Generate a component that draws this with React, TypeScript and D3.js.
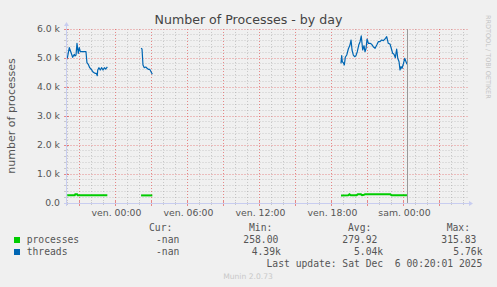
import React from "react";
import * as d3 from "d3";

// ---------- data (hours relative to ven. 00:00, values) ----------
const threadsSeg1: [number, number][] = [
  [-4.02, 4990], [-3.85, 5355], [-3.73, 5217], [-3.57, 5024], [-3.43, 5128], [-3.38, 5069],
  [-3.29, 5100], [-3.21, 5507], [-3.1, 5162], [-3.02, 5355], [-2.93, 5217], [-2.46, 5217],
  [-2.38, 4838], [-2.27, 4783], [-2.15, 4666], [-1.98, 4586], [-1.85, 4507], [-1.71, 4472],
  [-1.6, 4472], [-1.52, 4390], [-1.48, 4586], [-1.38, 4666], [-1.27, 4586], [-1.15, 4666],
  [-1.04, 4586], [-0.93, 4666], [-0.82, 4620], [-0.68, 4690],
];
const threadsSeg2: [number, number][] = [
  [2.13, 5334], [2.21, 5310], [2.29, 4759], [2.4, 4666], [2.52, 4690], [2.63, 4645],
  [2.73, 4610], [2.85, 4610], [2.96, 4528], [3.07, 4438],
];
const threadsSeg3: [number, number][] = [
  [18.79, 4816], [18.85, 5080], [18.9, 4872], [18.98, 4838], [19.07, 4759], [19.15, 5024],
  [19.27, 5103], [19.4, 5310], [19.54, 5448], [19.63, 5621], [19.71, 5276], [19.82, 5103],
  [19.93, 5045], [20.04, 5080], [20.15, 5217], [20.27, 5448], [20.38, 5562], [20.48, 5760],
  [20.6, 5276], [20.71, 5424], [20.79, 5217], [20.88, 5334], [20.96, 5655], [21.07, 5507],
  [21.21, 5507], [21.35, 5472], [21.48, 5390], [21.63, 5334], [21.77, 5448], [21.9, 5562],
  [22.04, 5562], [22.18, 5621], [22.32, 5600], [22.46, 5655], [22.6, 5735], [22.73, 5507],
  [22.88, 5480], [23.02, 5276], [23.1, 5162], [23.21, 5128], [23.32, 5011], [23.43, 5310],
  [23.52, 4990], [23.63, 4872], [23.71, 4586], [23.79, 4701], [23.88, 4645], [23.98, 4783],
  [24.1, 4990], [24.21, 4872], [24.29, 4783],
];
const processesSeg1: [number, number][] = [
  [-4.02, 265], [-3.4, 265], [-3.35, 300], [-3.2, 300], [-3.15, 268], [-0.68, 266],
];
const processesSeg2: [number, number][] = [
  [2.13, 262], [3.07, 262],
];
const processesSeg3: [number, number][] = [
  [18.79, 262], [19.4, 265], [19.5, 300], [19.6, 268], [20.1, 270], [20.2, 300], [20.45, 300],
  [20.55, 272], [20.7, 280], [20.8, 305], [22.9, 305], [23.0, 268], [24.29, 266],
];
const threadsSegments = [threadsSeg1, threadsSeg2, threadsSeg3];
const processesSegments = [processesSeg1, processesSeg2, processesSeg3];

const yTicks = [0, 1000, 2000, 3000, 4000, 5000, 6000];
const yTickLabels = ["0.0", "1.0 k", "2.0 k", "3.0 k", "4.0 k", "5.0 k", "6.0 k"];
const xLabelHours = [0, 6, 12, 18, 24];
const xLabels = ["ven. 00:00", "ven. 06:00", "ven. 12:00", "ven. 18:00", "sam. 00:00"];
const nowHour = 24.33;

const legendHeaders = ["Cur:", "Min:", "Avg:", "Max:"];
const processesStats = ["-nan", "258.00", "279.92", "315.83"];
const threadsStats = ["-nan", "4.39k", "5.04k", "5.76k"];

const base = new Date(2025, 11, 5, 0, 0, 0);
const hourToDate = (h: number) => new Date(base.getTime() + h * 3600000);

export default function App() {
  const W = 497, H = 287;
  const left = 67.5, right = 467.5, top = 29, bottom = 203;
  const x = d3.scaleTime().domain([hourToDate(-4), hourToDate(29.3333)]).range([left, right]);
  const y = d3.scaleLinear().domain([0, 6000]).range([bottom, top]);
  const xh = (h: number) => x(hourToDate(h));

  const line = d3
    .line<[number, number]>()
    .x((d) => xh(d[0]))
    .y((d) => y(d[1]));

  const minorY = d3.range(0, 6001, 200).filter((v) => v % 1000 !== 0);
  const minorXh = d3.range(-4, 30, 1).filter((h) => ((h % 3) + 3) % 3 !== 0 && xh(h) <= right);
  const majorXh = d3.range(-3, 30, 3).filter((h) => xh(h) <= right);

  const gridMinor = "rgba(150,150,150,0.45)";
  const gridMajor = "rgba(225,80,80,0.65)";
  const axisCol = "#c8cdf0";
  const textCol = "#555";
  const sans = "DejaVu Sans, sans-serif";
  const mono = "DejaVu Sans Mono, monospace";

  const snap = (v: number) => Math.round(v - 0.5) + 0.5;

  const colX = [149, 249, 348, 446.7];
  const procX = [156, 243.3, 342.3, 441.3];
  const thrX = [156, 251.7, 354, 453.3];

  return (
    <svg width={W} height={H} style={{ position: "fixed", left: 0, top: 0, background: "#f0f0f0" }}>
      <rect x={0} y={0} width={W} height={H} fill="#f0f0f0" />
      {/* title */}
      <text x={248.5} y={23.5} textAnchor="middle" fontFamily={sans} fontSize={12.6} fill="#444">
        Number of Processes - by day
      </text>
      {/* watermark right */}
      <text transform="translate(485.5,15) rotate(90)" fontFamily={sans} fontSize={6.5} fill="#c4c4c4">
        RRDTOOL / TOBI OETIKER
      </text>
      {/* y label */}
      <text
        transform={`translate(15,${(top + bottom) / 2}) rotate(-90)`}
        textAnchor="middle"
        fontFamily={sans}
        fontSize={11}
        fill={textCol}
      >
        number of processes
      </text>

      {/* grid */}
      <g>
        {minorY.map((v) => (
          <line key={"my" + v} x1={left} x2={right} y1={snap(y(v))} y2={snap(y(v))} stroke={gridMinor} strokeWidth={1} strokeDasharray="1,2" />
        ))}
        {minorXh.map((h) => (
          <line key={"mx" + h} x1={snap(xh(h))} x2={snap(xh(h))} y1={top} y2={bottom} stroke={gridMinor} strokeWidth={1} strokeDasharray="1,2" />
        ))}
      </g>
      <g>
        {yTicks.slice(1).map((v) => (
          <line key={"My" + v} x1={left} x2={right} y1={snap(y(v))} y2={snap(y(v))} stroke={gridMajor} strokeWidth={1} strokeDasharray="1,2" />
        ))}
        {majorXh.map((h) => (
          <line key={"Mx" + h} x1={snap(xh(h))} x2={snap(xh(h))} y1={top} y2={bottom} stroke={gridMajor} strokeWidth={1} strokeDasharray="1,2" />
        ))}
      </g>

      {/* ticks */}
      {minorY.map((v) => (
        <line key={"ty" + v} x1={64} x2={67} y1={snap(y(v))} y2={snap(y(v))} stroke={gridMinor} />
      ))}
      {yTicks.map((v) => (
        <line key={"tY" + v} x1={64} x2={69} y1={snap(y(v))} y2={snap(y(v))} stroke={gridMajor} />
      ))}
      {minorXh.map((h) => (
        <line key={"tx" + h} x1={snap(xh(h))} x2={snap(xh(h))} y1={bottom - 1} y2={bottom + 2} stroke={gridMinor} />
      ))}
      {majorXh.map((h) => (
        <line key={"tX" + h} x1={snap(xh(h))} x2={snap(xh(h))} y1={bottom - 2} y2={bottom + 3} stroke={gridMajor} />
      ))}

      {/* y tick labels */}
      {yTicks.map((v, i) => (
        <text key={"yl" + v} x={60} y={y(v) + 3.3} textAnchor="end" fontFamily={sans} fontSize={9.3} fill={textCol}>
          {yTickLabels[i]}
        </text>
      ))}
      {/* x labels */}
      {xLabelHours.map((h, i) => (
        <text key={"xl" + h} x={xh(h) + 1} y={216} textAnchor="middle" fontFamily={sans} fontSize={9.3} fill={textCol}>
          {xLabels[i]}
        </text>
      ))}

      {/* data */}
      {processesSegments.map((s, i) => (
        <path key={"p" + i} d={line(s) || ""} fill="none" stroke="#00cc00" strokeWidth={2} />
      ))}
      {threadsSegments.map((s, i) => (
        <path key={"t" + i} d={line(s) || ""} fill="none" stroke="#0066b3" strokeWidth={1.2} strokeLinejoin="round" />
      ))}

      {/* now line */}
      <line x1={snap(xh(nowHour))} x2={snap(xh(nowHour))} y1={top} y2={bottom} stroke="#999" strokeWidth={1} />

      {/* axes */}
      <line x1={64} x2={469} y1={bottom + 0.5} y2={bottom + 0.5} stroke={axisCol} />
      <path d={`M469,${bottom - 2} L473,${bottom + 0.5} L469,${bottom + 3} Z`} fill={axisCol} />
      <line x1={66.5} x2={66.5} y1={bottom + 3} y2={26} stroke={axisCol} />
      <path d={`M64,26 L66.5,22 L69,26 Z`} fill={axisCol} />

      {/* legend */}
      {legendHeaders.map((t, i) => (
        <text key={"lh" + i} x={colX[i]} y={231} fontFamily={mono} fontSize={9.7} fill={textCol}>
          {t}
        </text>
      ))}
      <rect x={14} y={237} width={6} height={6} fill="#00cc00" />
      <text x={26.7} y={243.3} fontFamily={mono} fontSize={9.7} fill={textCol}>processes</text>
      {processesStats.map((t, i) => (
        <text key={"ps" + i} x={procX[i]} y={243.3} fontFamily={mono} fontSize={9.7} fill={textCol}>{t}</text>
      ))}
      <rect x={14} y={249} width={6} height={6} fill="#0066b3" />
      <text x={26.7} y={255} fontFamily={mono} fontSize={9.7} fill={textCol}>threads</text>
      {threadsStats.map((t, i) => (
        <text key={"ts" + i} x={thrX[i]} y={255} fontFamily={mono} fontSize={9.7} fill={textCol}>{t}</text>
      ))}
      <text x={482.3} y={266.8} textAnchor="end" fontFamily={mono} fontSize={9.7} fill={textCol} style={{ whiteSpace: "pre" }}>
        {"Last update: Sat Dec  6 00:20:01 2025"}
      </text>
      <text x={248} y={279} textAnchor="middle" fontFamily={sans} fontSize={7.6} fill="#c8c8c8">
        Munin 2.0.73
      </text>
    </svg>
  );
}
